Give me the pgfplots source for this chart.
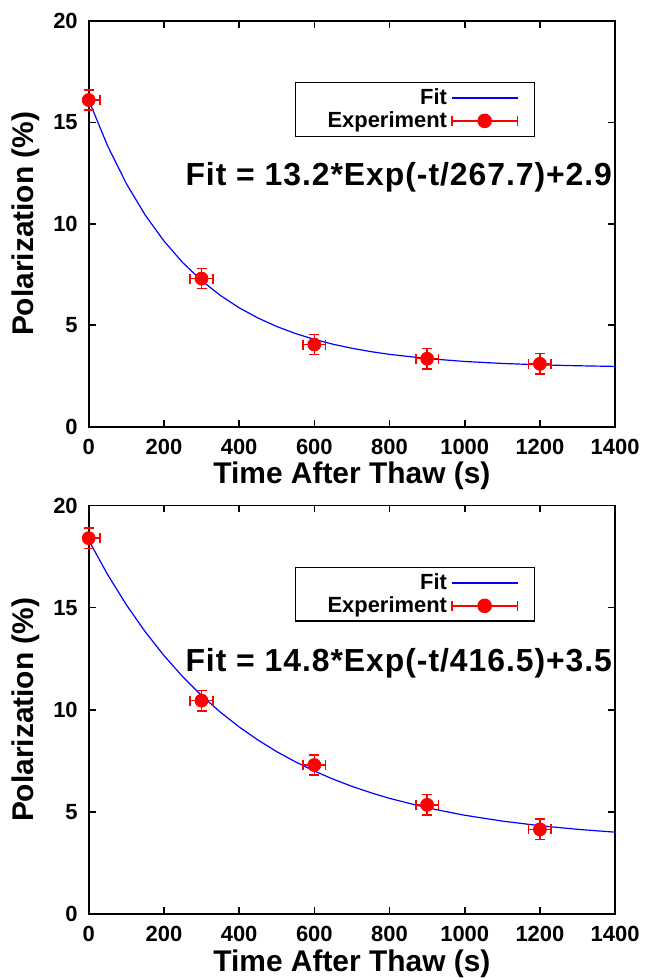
\documentclass[border=0pt]{standalone}
\usepackage{fontspec}
\setmainfont{Liberation Sans}
\newfontfamily\fitfont[LetterSpace=3]{Liberation Sans}
\usepackage{pgfplots}
\usepackage{pgfplotstable}
\pgfplotsset{compat=1.18}

% fit curves, tabulated (P in %, t in s)
\pgfplotstableread{
t P
0 16.100
50 13.851
100 11.985
150 10.437
200 9.153
250 8.088
300 7.204
350 6.471
400 5.862
450 5.358
500 4.939
550 4.591
600 4.303
650 4.064
700 3.866
750 3.701
800 3.565
900 3.358
1000 3.215
1100 3.117
1200 3.049
1300 3.003
1400 2.971
}\fitA
\pgfplotstableread{
t P
0 18.300
50 16.626
100 15.142
150 13.825
200 12.657
250 11.621
300 10.702
350 9.888
400 9.164
450 8.523
500 7.955
550 7.452
600 7.005
650 6.608
700 6.256
750 5.945
800 5.668
900 5.205
1000 4.841
1100 4.555
1200 4.330
1300 4.153
1400 4.013
}\fitB
\pgfplotstableread{
t P ex ey
0 16.1 30 0.5
300 7.3 30 0.5
600 4.05 30 0.5
900 3.35 30 0.5
1200 3.1 30 0.5
}\expA
\pgfplotstableread{
t P ex ey
0 18.4 30 0.5
300 10.45 30 0.5
600 7.3 30 0.5
900 5.35 30 0.5
1200 4.15 30 0.5
}\expB

\pgfplotsset{
  panel/.style={
    scale only axis, width=264pt,
    xmin=0, xmax=1400, ymin=0, ymax=20,
    xtick={0,200,...,1400}, ytick={0,5,...,20},
    tick align=inside, major tick length=3.5pt,
    axis line style={line width=0.9pt}, tick style={black, line width=0.8pt},
    /pgf/number format/assume math mode=true,
    /pgf/number format/1000 sep={},
    ticklabel style={font=\fontsize{11}{13}\selectfont\bfseries},
    xticklabel style={yshift=-2.5pt},
    yticklabel style={xshift=-2pt},
    label style={font=\fontsize{15}{18}\selectfont\bfseries},
    xlabel style={yshift=3pt},
    xlabel={Time After Thaw (s)},
    ylabel={Polarization (\%)},
    legend plot pos=right,
    legend style={at={(rel axis cs:0.848,0.85)}, anchor=north east,
      font=\fontsize{11}{12}\selectfont\bfseries, draw=black, line width=0.8pt,
      inner sep=1pt, row sep=-2pt},
  },
  fitline/.style={blue, line width=0.6pt, no marks,
    legend image code/.code={
      \draw[blue, line width=0.6pt] (6pt,0pt) -- (39pt,0pt);
      \path (46pt,0pt);}},
  expts/.style={red, only marks, mark=*, mark size=3.25pt,
    error bars/.cd, x dir=both, x explicit, y dir=both, y explicit,
    error bar style={draw=red, line width=0.75pt},
    error mark=none,
    /pgfplots/legend image code/.code={
      \draw[red, line width=0.75pt] (6pt,0pt) -- (39pt,0pt)
        (6pt,-2.5pt) -- (6pt,2.5pt) (39pt,-2.5pt) -- (39pt,2.5pt);
      \fill[red] (22.5pt,0pt) circle (3.25pt);
      \path (46pt,0pt);}},
  capv/.style={red, only marks, mark=|, mark size=2.5pt,
    mark options={line width=0.75pt}, forget plot},
  caph/.style={red, only marks, mark=-, mark size=2.5pt,
    mark options={line width=0.75pt}, forget plot},
}

\begin{document}
\begin{tikzpicture}
\path[use as bounding box] (-44.5pt,-32pt) rectangle (279pt,458.5pt);
% upper panel
\begin{axis}[panel, height=203.5pt, at={(0,244.5pt)}]
\addplot[fitline] table[x=t, y=P] {\fitA};
\addlegendentry{\makebox[73pt][r]{Fit}}
\addplot[capv] table[x expr=\thisrow{t}-\thisrow{ex}, y=P] {\expA};
\addplot[capv] table[x expr=\thisrow{t}+\thisrow{ex}, y=P] {\expA};
\addplot[caph] table[x=t, y expr=\thisrow{P}-\thisrow{ey}] {\expA};
\addplot[caph] table[x=t, y expr=\thisrow{P}+\thisrow{ey}] {\expA};
\addplot[expts] table[x=t, y=P, x error=ex, y error=ey] {\expA};
\addlegendentry{\makebox[73pt][r]{Experiment}}
\node[font=\fontsize{16}{18}\fitfont\bfseries] at (rel axis cs:0.589,0.614)
  {Fit = 13.2*Exp(-t/267.7)+2.9};
\end{axis}
% lower panel
\begin{axis}[panel, height=205pt, at={(0,0)}]
\addplot[fitline] table[x=t, y=P] {\fitB};
\addlegendentry{\makebox[73pt][r]{Fit}}
\addplot[capv] table[x expr=\thisrow{t}-\thisrow{ex}, y=P] {\expB};
\addplot[capv] table[x expr=\thisrow{t}+\thisrow{ex}, y=P] {\expB};
\addplot[caph] table[x=t, y expr=\thisrow{P}-\thisrow{ey}] {\expB};
\addplot[caph] table[x=t, y expr=\thisrow{P}+\thisrow{ey}] {\expB};
\addplot[expts] table[x=t, y=P, x error=ex, y error=ey] {\expB};
\addlegendentry{\makebox[73pt][r]{Experiment}}
\node[font=\fontsize{16}{18}\fitfont\bfseries] at (rel axis cs:0.589,0.615)
  {Fit = 14.8*Exp(-t/416.5)+3.5};
\end{axis}
\end{tikzpicture}
\end{document}
